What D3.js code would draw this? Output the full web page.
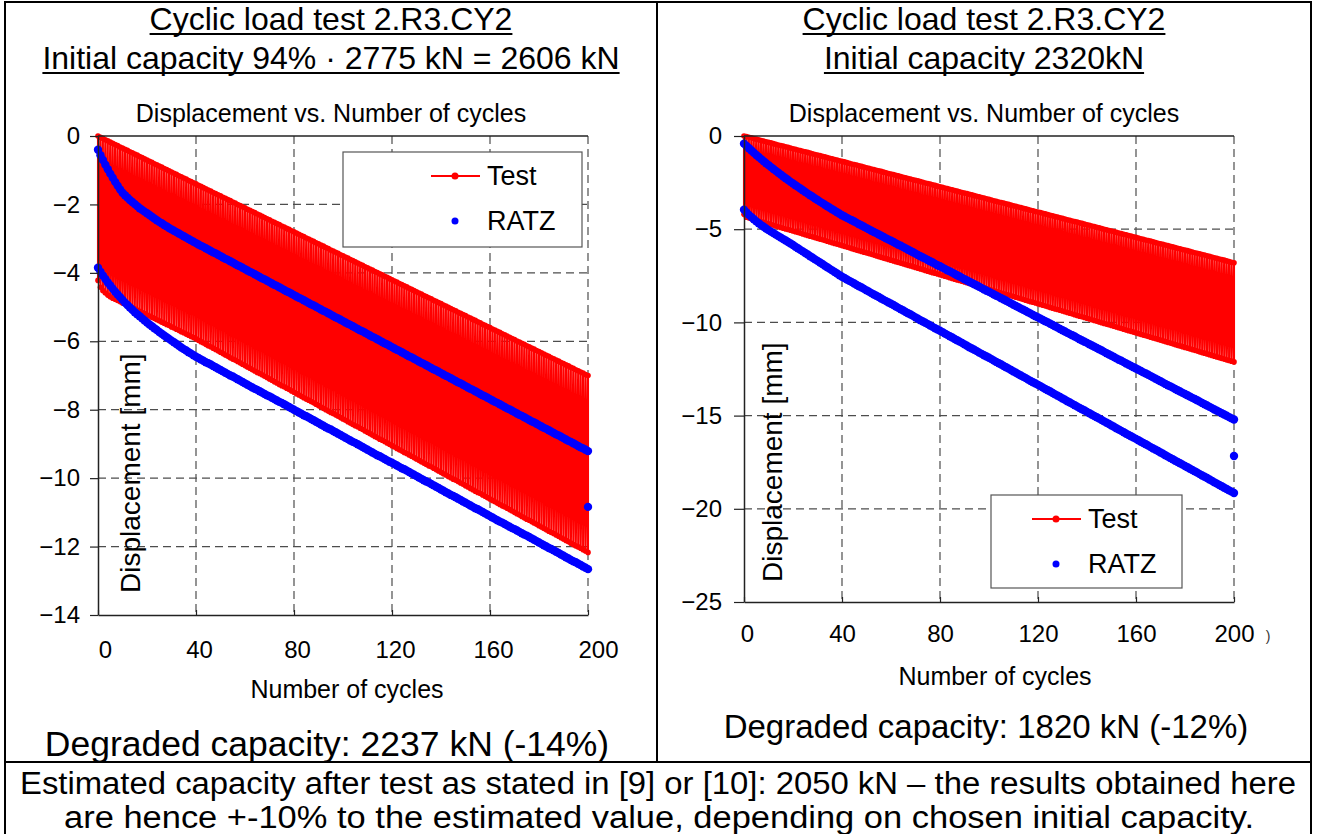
<!DOCTYPE html>
<html>
<head>
<meta charset="utf-8">
<script src="https://cdn.jsdelivr.net/npm/d3@7"></script>
<style>
  body { margin: 0; background: #fff; }
  text { font-family: "Liberation Sans", Arial, Helvetica, sans-serif; fill: #000; }
</style>
</head>
<body>
<script>
// ---- tick labels ----
var xTicks = [0, 40, 80, 120, 160, 200];
var leftYTicks = [0, -2, -4, -6, -8, -10, -12, -14];
var rightYTicks = [0, -5, -10, -15, -20, -25];

// ---- left chart (2606 kN) ----
// all series: one value per cycle, index = cycle number (0..200)
// test: unloaded (upper) and loaded (lower) displacement
var testUpperL = [
  0,-0.04,-0.07,-0.11,-0.14,-0.18,-0.21,-0.25,-0.28,-0.32,-0.35,-0.39,-0.42,-0.46,-0.49,-0.53,-0.56,-0.60,-0.63,-0.67,
  -0.70,-0.74,-0.77,-0.81,-0.84,-0.88,-0.91,-0.95,-0.98,-1.02,-1.05,-1.09,-1.12,-1.16,-1.19,-1.23,-1.26,-1.30,-1.33,-1.37,
  -1.40,-1.44,-1.47,-1.51,-1.54,-1.58,-1.61,-1.65,-1.68,-1.72,-1.75,-1.79,-1.82,-1.86,-1.89,-1.93,-1.96,-2.00,-2.03,-2.07,
  -2.10,-2.14,-2.17,-2.21,-2.24,-2.28,-2.31,-2.35,-2.38,-2.42,-2.45,-2.49,-2.52,-2.56,-2.59,-2.63,-2.66,-2.70,-2.73,-2.77,
  -2.80,-2.84,-2.87,-2.91,-2.94,-2.98,-3.01,-3.05,-3.08,-3.12,-3.15,-3.19,-3.22,-3.26,-3.29,-3.33,-3.36,-3.40,-3.43,-3.47,
  -3.50,-3.54,-3.57,-3.61,-3.64,-3.68,-3.71,-3.75,-3.78,-3.82,-3.85,-3.89,-3.92,-3.96,-3.99,-4.03,-4.06,-4.10,-4.13,-4.17,
  -4.20,-4.24,-4.27,-4.31,-4.34,-4.38,-4.41,-4.45,-4.48,-4.52,-4.55,-4.59,-4.62,-4.66,-4.69,-4.73,-4.76,-4.80,-4.83,-4.87,
  -4.90,-4.94,-4.97,-5.01,-5.04,-5.08,-5.11,-5.15,-5.18,-5.22,-5.25,-5.29,-5.32,-5.36,-5.39,-5.43,-5.46,-5.50,-5.53,-5.57,
  -5.60,-5.64,-5.67,-5.71,-5.74,-5.78,-5.81,-5.85,-5.88,-5.92,-5.95,-5.99,-6.02,-6.06,-6.09,-6.13,-6.16,-6.20,-6.23,-6.27,
  -6.30,-6.34,-6.37,-6.41,-6.44,-6.48,-6.51,-6.55,-6.58,-6.62,-6.65,-6.69,-6.72,-6.76,-6.79,-6.83,-6.86,-6.90,-6.93,-6.97,
  -7.00
];
var testLowerL = [
  -4.22,-4.42,-4.52,-4.59,-4.65,
  -4.70,-4.74,-4.77,-4.81,-4.84,-4.88,-4.91,-4.95,-4.98,-5.02,-5.05,-5.09,-5.12,-5.16,-5.19,-5.23,-5.26,-5.30,-5.33,-5.37,
  -5.40,-5.44,-5.47,-5.51,-5.54,-5.58,-5.61,-5.65,-5.68,-5.72,-5.75,-5.79,-5.82,-5.86,-5.89,
  -5.93,-5.97,-6.01,-6.05,-6.09,-6.13,-6.16,-6.20,-6.24,-6.28,-6.32,-6.36,-6.40,-6.44,-6.48,-6.52,-6.55,-6.59,-6.63,-6.67,
  -6.71,-6.75,-6.79,-6.83,-6.87,-6.91,-6.94,-6.98,-7.02,-7.06,-7.10,-7.14,-7.18,-7.22,-7.26,-7.30,-7.33,-7.37,-7.41,-7.45,
  -7.49,-7.53,-7.57,-7.61,-7.65,-7.69,-7.72,-7.76,-7.80,-7.84,-7.88,-7.92,-7.96,-8.00,-8.04,-8.08,-8.11,-8.15,-8.19,-8.23,
  -8.27,-8.31,-8.35,-8.39,-8.43,-8.47,-8.50,-8.54,-8.58,-8.62,-8.66,-8.70,-8.74,-8.78,-8.82,-8.86,-8.89,-8.93,-8.97,-9.01,
  -9.05,-9.09,-9.13,-9.17,-9.21,-9.25,-9.28,-9.32,-9.36,-9.40,-9.44,-9.48,-9.52,-9.56,-9.60,-9.64,-9.67,-9.71,-9.75,-9.79,
  -9.83,-9.87,-9.91,-9.95,-9.99,-10.03,-10.06,-10.10,-10.14,-10.18,-10.22,-10.26,-10.30,-10.34,-10.38,-10.42,-10.45,-10.49,-10.53,-10.57,
  -10.61,-10.65,-10.69,-10.73,-10.77,-10.81,-10.84,-10.88,-10.92,-10.96,-11.00,-11.04,-11.08,-11.12,-11.16,-11.20,-11.23,-11.27,-11.31,-11.35,
  -11.39,-11.43,-11.47,-11.51,-11.55,-11.59,-11.62,-11.66,-11.70,-11.74,-11.78,-11.82,-11.86,-11.90,-11.94,-11.98,-12.01,-12.05,-12.09,-12.13,
  -12.17
];
// RATZ prediction
var ratzUpperL = [
  -0.40,-0.56,-0.70,-0.84,-0.97,-1.10,-1.22,-1.34,-1.45,-1.56,
  -1.66,-1.73,-1.80,-1.87,-1.93,-1.99,-2.05,-2.11,-2.16,-2.21,
  -2.26,-2.31,-2.36,-2.41,-2.46,-2.51,-2.55,-2.60,-2.64,-2.69,
  -2.73,-2.77,-2.81,-2.85,-2.89,-2.93,-2.97,-3.01,-3.05,-3.09,
  -3.13,-3.17,-3.21,-3.24,-3.28,-3.32,-3.36,-3.40,-3.43,-3.47,
  -3.51,-3.55,-3.59,-3.62,-3.66,-3.70,-3.74,-3.78,-3.81,-3.85,
  -3.89,-3.93,-3.97,-4.00,-4.04,-4.08,-4.12,-4.16,-4.19,-4.23,
  -4.27,-4.31,-4.35,-4.38,-4.42,-4.46,-4.50,-4.54,-4.57,-4.61,
  -4.65,-4.69,-4.73,-4.76,-4.80,-4.84,-4.88,-4.92,-4.95,-4.99,
  -5.03,-5.07,-5.11,-5.14,-5.18,-5.22,-5.26,-5.30,-5.33,-5.37,
  -5.41,-5.45,-5.49,-5.52,-5.56,-5.60,-5.64,-5.68,-5.71,-5.75,
  -5.79,-5.83,-5.87,-5.90,-5.94,-5.98,-6.02,-6.06,-6.09,-6.13,
  -6.17,-6.21,-6.25,-6.28,-6.32,-6.36,-6.40,-6.44,-6.47,-6.51,
  -6.55,-6.59,-6.63,-6.66,-6.70,-6.74,-6.78,-6.82,-6.85,-6.89,
  -6.93,-6.97,-7.01,-7.04,-7.08,-7.12,-7.16,-7.20,-7.23,-7.27,
  -7.31,-7.35,-7.39,-7.42,-7.46,-7.50,-7.54,-7.58,-7.61,-7.65,
  -7.69,-7.73,-7.77,-7.80,-7.84,-7.88,-7.92,-7.96,-7.99,-8.03,
  -8.07,-8.11,-8.15,-8.18,-8.22,-8.26,-8.30,-8.34,-8.37,-8.41,
  -8.45,-8.49,-8.53,-8.56,-8.60,-8.64,-8.68,-8.72,-8.75,-8.79,
  -8.83,-8.87,-8.91,-8.94,-8.98,-9.02,-9.06,-9.10,-9.13,-9.17,
  -9.21
];
var ratzLowerL = [
  -3.85,-3.97,-4.08,-4.18,-4.28,-4.37,-4.46,-4.55,-4.63,-4.71,
  -4.79,-4.87,-4.94,-5.01,-5.08,-5.15,-5.21,-5.27,-5.33,-5.39,
  -5.45,-5.51,-5.56,-5.62,-5.67,-5.73,-5.78,-5.83,-5.88,-5.93,
  -5.98,-6.03,-6.08,-6.13,-6.18,-6.23,-6.27,-6.32,-6.36,-6.41,
  -6.45,-6.49,-6.53,-6.57,-6.61,-6.64,-6.68,-6.72,-6.76,-6.80,
  -6.84,-6.88,-6.92,-6.96,-7.00,-7.03,-7.07,-7.11,-7.15,-7.19,
  -7.23,-7.27,-7.31,-7.35,-7.39,-7.42,-7.46,-7.50,-7.54,-7.58,
  -7.61,-7.65,-7.69,-7.73,-7.77,-7.80,-7.84,-7.88,-7.92,-7.96,
  -8.00,-8.04,-8.08,-8.12,-8.16,-8.19,-8.23,-8.27,-8.31,-8.35,
  -8.39,-8.43,-8.47,-8.51,-8.55,-8.58,-8.62,-8.66,-8.70,-8.74,
  -8.78,-8.82,-8.86,-8.90,-8.94,-8.97,-9.01,-9.05,-9.09,-9.13,
  -9.17,-9.21,-9.25,-9.29,-9.33,-9.36,-9.40,-9.44,-9.48,-9.52,
  -9.55,-9.59,-9.63,-9.67,-9.71,-9.74,-9.78,-9.82,-9.86,-9.90,
  -9.94,-9.98,-10.02,-10.06,-10.10,-10.13,-10.17,-10.21,-10.25,-10.29,
  -10.33,-10.37,-10.41,-10.45,-10.49,-10.52,-10.56,-10.60,-10.64,-10.68,
  -10.72,-10.76,-10.80,-10.84,-10.88,-10.91,-10.95,-10.99,-11.03,-11.07,
  -11.11,-11.15,-11.19,-11.23,-11.27,-11.30,-11.34,-11.38,-11.42,-11.46,
  -11.49,-11.53,-11.57,-11.61,-11.65,-11.68,-11.72,-11.76,-11.80,-11.84,
  -11.88,-11.92,-11.96,-12.00,-12.04,-12.07,-12.11,-12.15,-12.19,-12.23,
  -12.27,-12.31,-12.35,-12.39,-12.43,-12.46,-12.50,-12.54,-12.58,-12.62,
  -12.66
];
var ratzExtraL = [200, -10.84];

// ---- right chart (2320 kN) ----
var testUpperR = [
  0,-0.03,-0.07,-0.10,-0.14,-0.17,-0.20,-0.24,-0.27,-0.31,-0.34,-0.37,-0.41,-0.44,-0.48,-0.51,-0.54,-0.58,-0.61,-0.65,
  -0.68,-0.71,-0.75,-0.78,-0.82,-0.85,-0.88,-0.92,-0.95,-0.99,-1.02,-1.05,-1.09,-1.12,-1.16,-1.19,-1.22,-1.26,-1.29,-1.33,
  -1.36,-1.39,-1.43,-1.46,-1.50,-1.53,-1.56,-1.60,-1.63,-1.67,
  -1.70,-1.73,-1.77,-1.80,-1.84,-1.87,-1.90,-1.94,-1.97,-2.01,-2.04,-2.07,-2.11,-2.14,-2.18,-2.21,-2.24,-2.28,-2.31,-2.35,
  -2.38,-2.41,-2.45,-2.48,-2.52,-2.55,-2.58,-2.62,-2.65,-2.69,-2.72,-2.75,-2.79,-2.82,-2.86,-2.89,-2.92,-2.96,-2.99,-3.03,
  -3.06,-3.09,-3.13,-3.16,-3.20,-3.23,-3.26,-3.30,-3.33,-3.37,
  -3.40,-3.43,-3.47,-3.50,-3.54,-3.57,-3.60,-3.64,-3.67,-3.71,-3.74,-3.77,-3.81,-3.84,-3.88,-3.91,-3.94,-3.98,-4.01,-4.05,
  -4.08,-4.11,-4.15,-4.18,-4.22,-4.25,-4.28,-4.32,-4.35,-4.39,-4.42,-4.45,-4.49,-4.52,-4.56,-4.59,-4.62,-4.66,-4.69,-4.73,
  -4.76,-4.79,-4.83,-4.86,-4.90,-4.93,-4.96,-5.00,-5.03,-5.07,
  -5.10,-5.13,-5.17,-5.20,-5.24,-5.27,-5.30,-5.34,-5.37,-5.41,-5.44,-5.47,-5.51,-5.54,-5.58,-5.61,-5.64,-5.68,-5.71,-5.75,
  -5.78,-5.81,-5.85,-5.88,-5.92,-5.95,-5.98,-6.02,-6.05,-6.09,-6.12,-6.15,-6.19,-6.22,-6.26,-6.29,-6.32,-6.36,-6.39,-6.43,
  -6.46,-6.49,-6.53,-6.56,-6.60,-6.63,-6.66,-6.70,-6.73,-6.77,
  -6.80
];
var testLowerR = [
  -4.20,-4.36,
  -4.40,-4.44,-4.48,-4.52,-4.56,-4.60,-4.63,-4.67,-4.71,-4.75,-4.79,-4.83,-4.87,-4.91,-4.95,-4.99,-5.02,-5.06,-5.10,-5.14,
  -5.18,-5.22,-5.26,-5.30,-5.34,-5.38,-5.41,-5.45,-5.49,-5.53,-5.57,-5.61,-5.65,-5.69,-5.73,-5.77,-5.80,-5.84,-5.88,-5.92,
  -5.96,-6.00,-6.04,-6.08,-6.12,-6.16,-6.19,-6.23,-6.27,-6.31,-6.35,-6.39,-6.43,-6.47,-6.51,-6.55,-6.58,-6.62,-6.66,-6.70,
  -6.74,-6.78,-6.82,-6.86,-6.90,-6.94,-6.97,-7.01,-7.05,-7.09,-7.13,-7.17,-7.21,-7.25,-7.29,-7.33,-7.36,-7.40,-7.44,-7.48,
  -7.52,-7.56,-7.60,-7.64,-7.68,-7.72,-7.75,-7.79,-7.83,-7.87,-7.91,-7.95,-7.99,-8.03,-8.07,-8.11,-8.14,-8.18,-8.22,-8.26,
  -8.30,-8.34,-8.38,-8.42,-8.46,-8.50,-8.53,-8.57,-8.61,-8.65,-8.69,-8.73,-8.77,-8.81,-8.85,-8.89,-8.92,-8.96,-9.00,-9.04,
  -9.08,-9.12,-9.16,-9.20,-9.24,-9.28,-9.31,-9.35,-9.39,-9.43,-9.47,-9.51,-9.55,-9.59,-9.63,-9.67,-9.70,-9.74,-9.78,-9.82,
  -9.86,-9.90,-9.94,-9.98,-10.02,-10.06,-10.09,-10.13,-10.17,-10.21,-10.25,-10.29,-10.33,-10.37,-10.41,-10.45,-10.48,-10.52,-10.56,-10.60,
  -10.64,-10.68,-10.72,-10.76,-10.80,-10.84,-10.87,-10.91,-10.95,-10.99,-11.03,-11.07,-11.11,-11.15,-11.19,-11.23,-11.26,-11.30,-11.34,-11.38,
  -11.42,-11.46,-11.50,-11.54,-11.58,-11.62,-11.65,-11.69,-11.73,-11.77,-11.81,-11.85,-11.89,-11.93,-11.97,-12.01,-12.04,-12.08,-12.12
];
var ratzUpperR = [
  -0.41,-0.54,-0.66,-0.78,-0.90,-1.02,-1.13,-1.24,-1.35,-1.46,
  -1.56,-1.67,-1.77,-1.87,-1.97,-2.07,-2.17,-2.27,-2.36,-2.46,
  -2.55,-2.64,-2.73,-2.82,-2.91,-3.00,-3.09,-3.18,-3.26,-3.35,
  -3.43,-3.52,-3.60,-3.69,-3.77,-3.85,-3.93,-4.01,-4.09,-4.17,
  -4.25,-4.32,-4.39,-4.46,-4.52,-4.59,-4.66,-4.73,-4.80,-4.87,
  -4.94,-5.01,-5.08,-5.15,-5.21,-5.28,-5.35,-5.42,-5.49,-5.56,
  -5.62,-5.69,-5.76,-5.83,-5.89,-5.96,-6.03,-6.10,-6.17,-6.24,
  -6.31,-6.38,-6.45,-6.52,-6.58,-6.65,-6.72,-6.79,-6.86,-6.93,
  -6.99,-7.06,-7.13,-7.20,-7.26,-7.33,-7.40,-7.47,-7.54,-7.61,
  -7.68,-7.75,-7.82,-7.89,-7.95,-8.02,-8.09,-8.16,-8.23,-8.30,
  -8.36,-8.43,-8.50,-8.57,-8.63,-8.70,-8.77,-8.84,-8.91,-8.98,
  -9.05,-9.12,-9.19,-9.26,-9.32,-9.39,-9.46,-9.53,-9.60,-9.67,
  -9.73,-9.80,-9.87,-9.94,-10.00,-10.07,-10.14,-10.21,-10.28,-10.35,
  -10.42,-10.49,-10.56,-10.63,-10.69,-10.76,-10.83,-10.90,-10.97,-11.04,
  -11.10,-11.17,-11.24,-11.31,-11.37,-11.44,-11.51,-11.58,-11.65,-11.72,
  -11.79,-11.86,-11.93,-12.00,-12.06,-12.13,-12.20,-12.27,-12.34,-12.41,
  -12.47,-12.54,-12.61,-12.68,-12.74,-12.81,-12.88,-12.95,-13.02,-13.09,
  -13.16,-13.23,-13.30,-13.37,-13.43,-13.50,-13.57,-13.64,-13.71,-13.78,
  -13.84,-13.91,-13.98,-14.05,-14.11,-14.18,-14.25,-14.32,-14.39,-14.46,
  -14.53,-14.60,-14.67,-14.74,-14.80,-14.87,-14.94,-15.01,-15.08,-15.15,
  -15.21
];
var ratzLowerR = [
  -3.95,-4.10,-4.23,-4.35,-4.47,-4.58,-4.68,-4.78,-4.87,-4.96,
  -5.05,-5.13,-5.21,-5.29,-5.37,-5.45,-5.53,-5.61,-5.69,-5.77,
  -5.85,-5.94,-6.02,-6.11,-6.19,-6.28,-6.36,-6.45,-6.53,-6.62,
  -6.70,-6.79,-6.87,-6.96,-7.04,-7.13,-7.21,-7.30,-7.38,-7.47,
  -7.55,-7.62,-7.70,-7.77,-7.84,-7.91,-7.99,-8.06,-8.13,-8.20,
  -8.28,-8.35,-8.43,-8.50,-8.57,-8.64,-8.72,-8.79,-8.86,-8.93,
  -9.00,-9.07,-9.15,-9.22,-9.29,-9.36,-9.44,-9.51,-9.58,-9.65,
  -9.73,-9.80,-9.88,-9.95,-10.02,-10.09,-10.17,-10.24,-10.31,-10.38,
  -10.45,-10.52,-10.60,-10.67,-10.74,-10.81,-10.89,-10.96,-11.03,-11.10,
  -11.18,-11.25,-11.33,-11.40,-11.47,-11.54,-11.62,-11.69,-11.76,-11.83,
  -11.90,-11.97,-12.05,-12.12,-12.19,-12.26,-12.34,-12.41,-12.48,-12.55,
  -12.63,-12.70,-12.78,-12.85,-12.92,-12.99,-13.07,-13.14,-13.21,-13.28,
  -13.35,-13.42,-13.50,-13.57,-13.64,-13.71,-13.79,-13.86,-13.93,-14.00,
  -14.08,-14.15,-14.23,-14.30,-14.37,-14.44,-14.52,-14.59,-14.66,-14.73,
  -14.80,-14.87,-14.95,-15.02,-15.09,-15.16,-15.24,-15.31,-15.38,-15.45,
  -15.53,-15.60,-15.68,-15.75,-15.82,-15.89,-15.97,-16.04,-16.11,-16.18,
  -16.25,-16.32,-16.40,-16.47,-16.54,-16.61,-16.69,-16.76,-16.83,-16.90,
  -16.98,-17.05,-17.13,-17.20,-17.27,-17.34,-17.42,-17.49,-17.56,-17.63,
  -17.70,-17.77,-17.85,-17.92,-17.99,-18.06,-18.14,-18.21,-18.28,-18.35,
  -18.43,-18.50,-18.58,-18.65,-18.72,-18.79,-18.87,-18.94,-19.01,-19.08,
  -19.15
];
var ratzExtraR = [200, -17.17];

var W = 1317, H = 834;
var RED = "#ff0000", BLUE = "#0000ff", GRID = "#4d4d4d";

var svg = d3.select("body").append("svg")
  .attr("width", W)
  .attr("height", H);

svg.append("rect").attr("width", W).attr("height", H).attr("fill", "#fff");

// helper for plain text
function addText(x, y, str, size, anchor) {
  return svg.append("text")
    .attr("x", x)
    .attr("y", y)
    .attr("text-anchor", anchor || "middle")
    .style("font-size", size + "px")
    .text(str);
}

function underline(t) {
  var b = t.node().getBBox();
  var y = +t.attr("y") + 4;
  svg.append("line")
    .attr("x1", b.x).attr("x2", b.x + b.width)
    .attr("y1", y).attr("y2", y)
    .attr("stroke", "#000").attr("stroke-width", 2);
}

function drawPanel(p) {
  var x = d3.scaleLinear().domain([0, 200]).range([p.left, p.right]);
  var y = d3.scaleLinear().domain([p.yTicks[p.yTicks.length - 1], 0]).range([p.bottom, p.top]);
  var g = svg.append("g");

  // dashed grid
  g.selectAll(".vgrid").data(xTicks.slice(1)).enter().append("line")
    .attr("x1", d => x(d)).attr("x2", d => x(d))
    .attr("y1", p.top).attr("y2", p.bottom)
    .attr("stroke", GRID).attr("stroke-width", 1.2).attr("stroke-dasharray", "8,5");
  g.selectAll(".hgrid").data(p.yTicks.slice(1, -1)).enter().append("line")
    .attr("x1", p.left).attr("x2", p.right)
    .attr("y1", d => y(d)).attr("y2", d => y(d))
    .attr("stroke", GRID).attr("stroke-width", 1.2).attr("stroke-dasharray", "8,5");

  // test: zig-zag between unloaded and loaded state of every cycle
  var pts = [];
  p.testUpper.forEach(function (u, c) {
    pts.push([c, u]);
    pts.push([c, p.testLower[c]]);
  });
  var line = d3.line().x(d => x(d[0])).y(d => y(d[1]));
  g.append("path").datum(pts)
    .attr("d", line)
    .attr("fill", "none")
    .attr("stroke", RED)
    .attr("stroke-width", 2.1);
  g.selectAll(".tm").data(pts).enter().append("circle")
    .attr("cx", d => x(d[0])).attr("cy", d => y(d[1]))
    .attr("r", 2.8).attr("fill", RED);

  // RATZ
  var rpts = [];
  p.ratzUpper.forEach(function (v, c) { rpts.push([c, v]); });
  p.ratzLower.forEach(function (v, c) { rpts.push([c, v]); });
  rpts.push(p.ratzExtra);
  g.selectAll(".rm").data(rpts).enter().append("circle")
    .attr("cx", d => x(d[0])).attr("cy", d => y(d[1]))
    .attr("r", 4.2).attr("fill", BLUE);

  // axes
  var ya = g.append("g")
    .attr("transform", "translate(" + p.left + ",0)")
    .call(d3.axisLeft(y).tickValues(p.yTicks).tickSize(p.yTickLen).tickSizeOuter(0).tickPadding(p.yPad));
  ya.select(".domain").attr("stroke", "#222").attr("stroke-width", 1.5);
  ya.selectAll(".tick line").attr("stroke", "#222").attr("stroke-width", 1.2);
  ya.selectAll("text").style("font-size", "24px").attr("font-family", null).attr("fill", "#000");

  var xa = g.append("g")
    .attr("transform", "translate(0," + p.bottom + ")")
    .call(d3.axisBottom(x).tickValues(xTicks).tickSize(-5).tickSizeOuter(0).tickPadding(p.xPad));
  xa.select(".domain").attr("stroke", "#222").attr("stroke-width", 1.5);
  xa.selectAll(".tick line").attr("stroke", "#222").attr("stroke-width", 1.2);
  xa.selectAll("text").style("font-size", "24px").attr("font-family", null).attr("fill", "#000")
    .attr("dx", (d, i) => i === 0 ? p.xShift[0] : (i === xTicks.length - 1 ? p.xShift[2] : p.xShift[1]));

  // top frame line
  g.append("line")
    .attr("x1", p.left).attr("x2", p.right)
    .attr("y1", p.top).attr("y2", p.top)
    .attr("stroke", "#222").attr("stroke-width", 1.5);

  // axis titles
  svg.append("text")
    .attr("transform", "translate(" + p.yTitle[0] + "," + p.yTitle[1] + ") rotate(-90)")
    .attr("text-anchor", "start")
    .style("font-size", "28px")
    .text("Displacement [mm]");
  addText(p.xTitle[0], p.xTitle[1], "Number of cycles", 25);
  addText(p.cx, p.top - 14, "Displacement vs. Number of cycles", 25);

  // legend
  var L = p.legend;
  svg.append("rect")
    .attr("x", L.x).attr("y", L.y).attr("width", L.w).attr("height", L.h)
    .attr("fill", "#fff").attr("stroke", "#555").attr("stroke-width", 1.2);
  svg.append("line")
    .attr("x1", L.sx - 24).attr("x2", L.sx + 25)
    .attr("y1", L.y + 24).attr("y2", L.y + 24)
    .attr("stroke", RED).attr("stroke-width", 2);
  svg.append("circle").attr("cx", L.sx).attr("cy", L.y + 24).attr("r", 3.5).attr("fill", RED);
  svg.append("circle").attr("cx", L.sx).attr("cy", L.y + 69).attr("r", 3.5).attr("fill", BLUE);
  addText(L.sx + 32, L.y + 33, "Test", 27, "start");
  addText(L.sx + 32, L.y + 78, "RATZ", 27, "start");
}

// frames (bottom edge lies just outside the picture)
svg.append("rect")
  .attr("x", 5).attr("y", 2).attr("width", 1306).attr("height", 840)
  .attr("fill", "none").attr("stroke", "#000").attr("stroke-width", 2);
svg.append("line").attr("x1", 657).attr("x2", 657).attr("y1", 2).attr("y2", 762)
  .attr("stroke", "#000").attr("stroke-width", 2);
svg.append("line").attr("x1", 5).attr("x2", 1311).attr("y1", 762).attr("y2", 762)
  .attr("stroke", "#000").attr("stroke-width", 2);

drawPanel({
  left: 98, right: 588, top: 136, bottom: 615, cx: 331,
  yTicks: leftYTicks, yTickLen: 8, yPad: 10, xPad: 26, xShift: [7, 3, 10],
  testUpper: testUpperL, testLower: testLowerL,
  ratzUpper: ratzUpperL, ratzLower: ratzLowerL, ratzExtra: ratzExtraL,
  yTitle: [140, 593], xTitle: [347, 698],
  legend: { x: 343, y: 152, w: 239, h: 95, sx: 455 }
});

drawPanel({
  left: 744, right: 1234, top: 136, bottom: 602, cx: 984,
  yTicks: rightYTicks, yTickLen: 10, yPad: 12, xPad: 23, xShift: [3, 0, 0],
  testUpper: testUpperR, testLower: testLowerR,
  ratzUpper: ratzUpperR, ratzLower: ratzLowerR, ratzExtra: ratzExtraR,
  yTitle: [782, 582], xTitle: [995, 685],
  legend: { x: 991, y: 495, w: 191, h: 93, sx: 1056 }
});

// titles
underline(addText(331, 30, "Cyclic load test 2.R3.CY2", 32));
underline(addText(331, 69, "Initial capacity 94% \u00b7 2775 kN = 2606 kN", 32));
underline(addText(984, 30, "Cyclic load test 2.R3.CY2", 32));
underline(addText(984, 69, "Initial capacity 2320kN", 32));

addText(327, 756, "Degraded capacity: 2237 kN (-14%)", 35.5);
addText(986, 738, "Degraded capacity: 1820 kN (-12%)", 33);

// bottom note, two tight lines as in the source
addText(658, 794, "Estimated capacity after test as stated in [9] or [10]: 2050 kN \u2013 the results obtained here", 31)
  .attr("textLength", 1276).attr("lengthAdjust", "spacingAndGlyphs");
addText(659, 828, "are hence +-10% to the estimated value, depending on chosen initial capacity.", 31)
  .attr("textLength", 1190).attr("lengthAdjust", "spacingAndGlyphs");

// stray mark right of the last tick label
addText(1268, 641, ")", 14).style("fill", "#333");
</script>
</body>
</html>
